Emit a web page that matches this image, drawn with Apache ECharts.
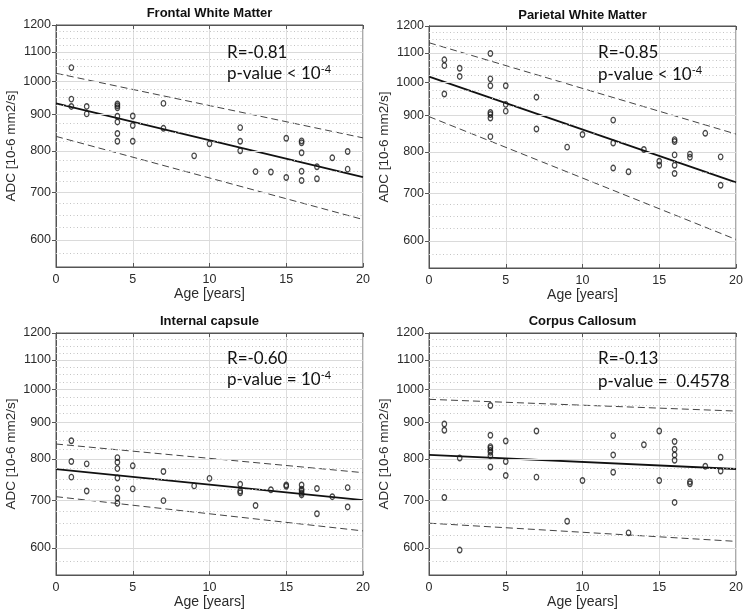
<!DOCTYPE html>
<html><head><meta charset="utf-8">
<script src="https://cdn.jsdelivr.net/npm/echarts@6/dist/echarts.min.js"></script>
<style>html,body{margin:0;padding:0;background:#fff}#c{width:750px;height:615px}</style>
</head><body><div id="c"></div>
<script>
// ---------------- DATA ----------------
const panelTitles = ['Frontal White Matter', 'Parietal White Matter', 'Internal capsule', 'Corpus Callosum'];
const rLabels = ['R=-0.81', 'R=-0.85', 'R=-0.60', 'R=-0.13'];
const pLabels = ['p-value < 10{sup|-4}', 'p-value < 10{sup|-4}', 'p-value = 10{sup|-4}', 'p-value =  0.4578'];
const yTicks = [600, 700, 800, 900, 1000, 1100, 1200];
const yMinorTicks = [575, 625, 650, 675, 725, 750, 775, 825, 850, 875, 925, 950, 975, 1025, 1050, 1075, 1125, 1150, 1175];
const xTicks = [0, 5, 10, 15, 20];
const fitAges = [0, 20];

const frontalAge = [1,1,1, 2,2, 4,4,4,4,4,4,4, 5,5,5, 7,7, 9, 10, 12,12,12, 13, 14, 15,15, 16,16,16,16,16, 17,17, 18, 19,19];
const frontalADC = [1046,945,923, 923,901, 930,925,919,894,878,846,825, 895,868,825, 932,860, 787, 818, 862,825,800, 748, 747, 833,734, 826,821,795,749,727, 760,731, 782, 798,754];
const frontalFit = [932, 735];
const frontalUpper = [1027, 834];
const frontalLower = [838, 641];

const parietalAge = [1,1,1, 2,2, 4,4,4,4,4,4,4, 5,5,5, 7,7, 9, 10, 12,12,12, 13, 14, 15,15, 16,16,16,16,16, 17,17, 18, 19,19];
const parietalADC = [1076,1056,964, 1047,1020, 1098,1012,990,908,902,892,840, 990,932,912, 954,861, 812, 846, 886,823,759, 750, 806, 776,766, 832,827,792,766,746, 794,786, 849, 787,718];
const parietalFit = [1019, 725];
const parietalUpper = [1137, 847];
const parietalLower = [896, 603];

const capsuleAge = [1,1,1, 2,2, 4,4,4,4,4,4,4, 5,5, 7,7, 9, 10, 12,12,12, 13, 14, 15,15, 16,16,16,16,16, 17,17, 18, 19,19];
const capsuleADC = [848,793,754, 787,721, 803,791,775,752,726,705,693, 782,726, 768,699, 733, 751, 737,721,717, 688, 724, 735,732, 735,725,721,716,712, 727,670, 708, 729,685];
const capsuleFit = [774, 700];
const capsuleUpper = [839, 765];
const capsuleLower = [708, 634];

const callosumAge = [1,1,1, 2,2, 4,4,4,4,4,4,4,4, 5,5,5, 7,7, 9, 10, 12,12,12, 13, 14, 15,15, 16,16,16,16,16, 17,17, 18, 19,19];
const callosumADC = [895,877,706, 802,596, 950,863,832,828,822,817,808,779, 847,793,758, 875,754, 654, 746, 862,810,766, 630, 837, 875,746, 846,825,810,796,695, 743,738, 781, 804,769];
const callosumFit = [810, 774];
const callosumUpper = [969, 933];
const callosumLower = [650, 613];

// ---------------- BUILD ----------------
const panels = [
  {age: frontalAge, adc: frontalADC, fit: frontalFit, up: frontalUpper, lo: frontalLower},
  {age: parietalAge, adc: parietalADC, fit: parietalFit, up: parietalUpper, lo: parietalLower},
  {age: capsuleAge, adc: capsuleADC, fit: capsuleFit, up: capsuleUpper, lo: capsuleLower},
  {age: callosumAge, adc: callosumADC, fit: callosumFit, up: callosumUpper, lo: callosumLower}
];
const gridPos = [
  {left: 56, top: 25, width: 307, height: 242},
  {left: 429, top: 26, width: 307, height: 242},
  {left: 56, top: 333, width: 307, height: 242},
  {left: 429, top: 333, width: 307, height: 242}
];
const titlePos = [[209.5, 7], [582.5, 8.5], [209.5, 315], [582.5, 315]];
const annPos = [[227, 52.5, 74], [598, 52.7, 75], [227, 358.3, 380], [598, 358.3, 381.7]];

const AX = '#555';
const LBL = '#2b2b2b';
const FONT = 'Liberation Sans';

const grids = [], xAxes = [], yAxes = [], series = [], titles = [], graphics = [];
panels.forEach((p, i) => {
  grids.push(Object.assign({show: true, borderColor: AX, borderWidth: 1, containLabel: false}, gridPos[i]));
  xAxes.push({
    type: 'value', gridIndex: i, min: xTicks[0], max: xTicks[xTicks.length - 1], interval: 5,
    axisLine: {show: true, lineStyle: {color: AX, width: 1}},
    axisTick: {show: true, inside: true, length: 4, lineStyle: {color: AX}},
    axisLabel: {show: true, color: LBL, fontSize: 12.5, fontFamily: FONT, margin: 6},
    splitLine: {show: true, lineStyle: {color: '#dedede', width: 1}},
    name: 'Age [years]', nameLocation: 'middle', nameGap: 19,
    nameTextStyle: {color: LBL, fontSize: 14, fontFamily: FONT}
  });
  xAxes.push({
    type: 'value', gridIndex: i, position: 'top', min: xTicks[0], max: xTicks[xTicks.length - 1], interval: 5,
    axisLine: {show: true, lineStyle: {color: AX, width: 1}},
    axisTick: {show: true, inside: true, length: 4, lineStyle: {color: AX}},
    axisLabel: {show: false}, splitLine: {show: false}
  });
  yAxes.push({
    type: 'log', logBase: 10, gridIndex: i, min: 550, max: 1200,
    axisLine: {show: true, lineStyle: {color: AX, width: 1}},
    axisTick: {show: true, inside: true, length: 4, lineStyle: {color: AX}, customValues: yTicks},
    axisLabel: {show: true, color: LBL, fontSize: 12.5, fontFamily: FONT, margin: 5, customValues: yTicks,
      formatter: v => String(Math.round(v))},
    splitLine: {show: false}, minorTick: {show: false}, minorSplitLine: {show: false},
    name: 'ADC [10-6 mm2/s]', nameLocation: 'middle', nameGap: 38,
    nameTextStyle: {color: LBL, fontSize: 13.5, fontFamily: FONT}
  });
  yAxes.push({
    type: 'log', logBase: 10, gridIndex: i, position: 'right', min: 550, max: 1200,
    axisLine: {show: true, lineStyle: {color: AX, width: 1}},
    axisTick: {show: true, inside: true, length: 4, lineStyle: {color: AX}, customValues: yTicks},
    axisLabel: {show: false, customValues: yTicks}, splitLine: {show: false}
  });
  const xi = 2 * i, yi = 2 * i;
  const gridLines = yTicks.filter(v => v > 550 && v < 1200).map(v => ({yAxis: v, lineStyle: {color: '#dadada', type: 'solid', width: 1}}))
    .concat(yMinorTicks.map(v => ({yAxis: v, lineStyle: {color: '#c4c4c4', type: [1, 2.5], width: 1}})));
  series.push({
    type: 'line', xAxisIndex: xi, yAxisIndex: yi, data: [], z: 0, silent: true,
    markLine: {silent: true, symbol: ['none', 'none'], label: {show: false}, animation: false, data: gridLines}
  });
  series.push({
    type: 'line', xAxisIndex: xi, yAxisIndex: yi, symbol: 'none', silent: true, z: 3,
    data: fitAges.map((a, k) => [a, p.up[k]]),
    lineStyle: {color: '#444', width: 1, type: [7, 4]}
  });
  series.push({
    type: 'line', xAxisIndex: xi, yAxisIndex: yi, symbol: 'none', silent: true, z: 3,
    data: fitAges.map((a, k) => [a, p.lo[k]]),
    lineStyle: {color: '#444', width: 1, type: [7, 4]}
  });
  series.push({
    type: 'line', xAxisIndex: xi, yAxisIndex: yi, symbol: 'none', silent: true, z: 4,
    data: fitAges.map((a, k) => [a, p.fit[k]]),
    lineStyle: {color: '#111', width: 1.8}
  });
  series.push({
    type: 'scatter', xAxisIndex: xi, yAxisIndex: yi, z: 5,
    data: p.age.map((a, k) => [a, p.adc[k]]),
    symbol: 'circle', symbolSize: [4.5, 5.5],
    itemStyle: {color: 'rgba(255,255,255,0)', borderColor: '#1a1a1a', borderWidth: 1.3}
  });
  titles.push({
    text: panelTitles[i], left: titlePos[i][0], top: titlePos[i][1], textAlign: 'center', padding: 0,
    textStyle: {fontSize: 13, fontWeight: 'bold', color: '#111', fontFamily: FONT}
  });
  graphics.push({
    type: 'text', x: annPos[i][0], y: annPos[i][1], z: 10,
    style: {text: rLabels[i], fontSize: 17, fontFamily: 'Lato', fill: '#111', verticalAlign: 'middle'}
  });
  graphics.push({
    type: 'text', x: annPos[i][0], y: annPos[i][2], z: 10,
    style: {
      text: pLabels[i], fontSize: 17, fontFamily: 'Lato', fill: '#111', verticalAlign: 'middle', lineHeight: 20,
      rich: {sup: {fontSize: 11, fontFamily: 'Lato', fill: '#111', verticalAlign: 'top', lineHeight: 10}}
    }
  });
});

const chart = echarts.init(document.getElementById('c'), null, {renderer: 'canvas'});
chart.setOption({
  animation: false,
  backgroundColor: '#fff',
  title: titles,
  grid: grids,
  xAxis: xAxes,
  yAxis: yAxes,
  series: series,
  graphic: graphics
});
</script></body></html>
